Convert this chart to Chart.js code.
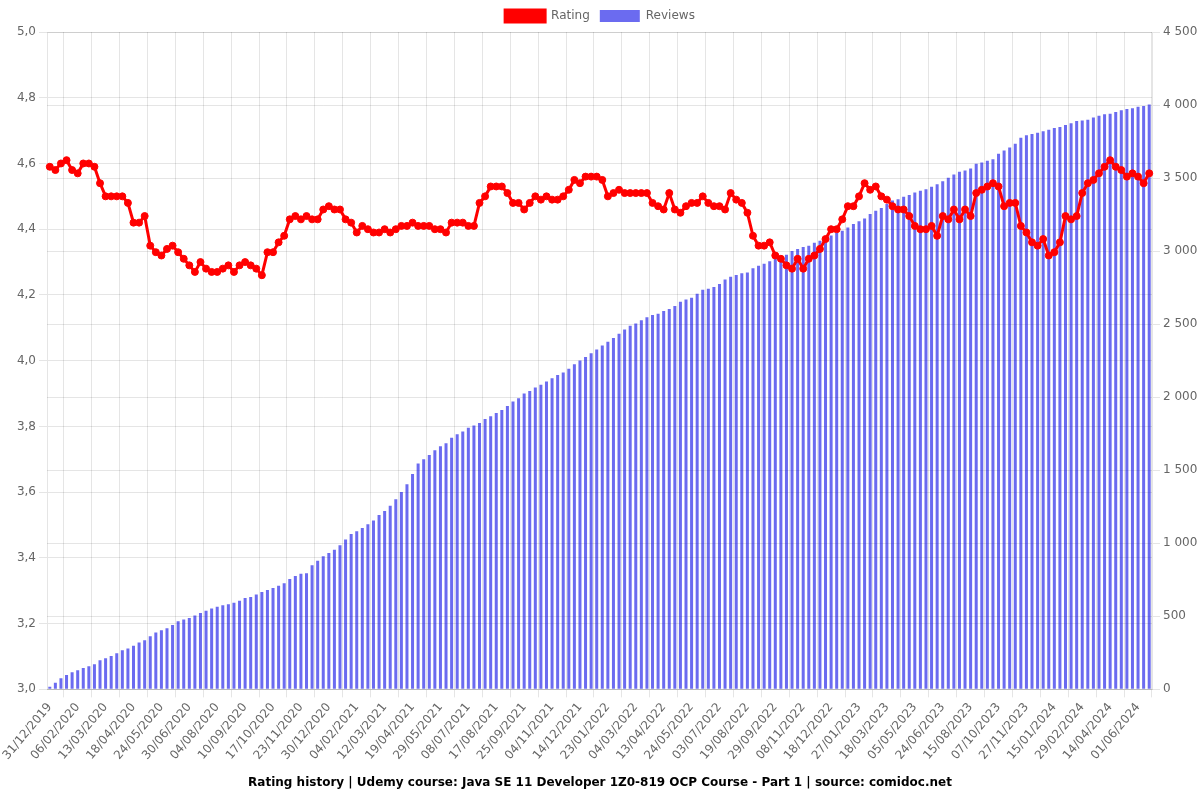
<!DOCTYPE html>
<html>
<head>
<meta charset="utf-8">
<script src="https://cdn.jsdelivr.net/npm/chart.js@4/dist/chart.umd.min.js"></script>
<style>
  html, body { margin: 0; padding: 0; background: #fff; }
  #wrap { width: 1200px; height: 800px; position: relative; }
</style>
</head>
<body>
<div id="wrap"><canvas id="chart"></canvas></div>
<script>
// dates of the snapshots (x categories)
const dates = [
'31/12/2019','07/01/2020','15/01/2020','22/01/2020','30/01/2020',
'06/02/2020','13/02/2020','20/02/2020','28/02/2020','06/03/2020',
'13/03/2020','20/03/2020','27/03/2020','04/04/2020','11/04/2020',
'18/04/2020','25/04/2020','02/05/2020','10/05/2020','17/05/2020',
'24/05/2020','31/05/2020','08/06/2020','15/06/2020','23/06/2020',
'30/06/2020','07/07/2020','14/07/2020','21/07/2020','28/07/2020',
'04/08/2020','11/08/2020','19/08/2020','26/08/2020','03/09/2020',
'10/09/2020','17/09/2020','25/09/2020','02/10/2020','10/10/2020',
'17/10/2020','24/10/2020','01/11/2020','08/11/2020','16/11/2020',
'23/11/2020','30/11/2020','08/12/2020','15/12/2020','23/12/2020',
'30/12/2020','06/01/2021','13/01/2021','21/01/2021','28/01/2021',
'04/02/2021','11/02/2021','18/02/2021','26/02/2021','05/03/2021',
'12/03/2021','19/03/2021','27/03/2021','04/04/2021','12/04/2021',
'19/04/2021','27/04/2021','05/05/2021','13/05/2021','21/05/2021',
'29/05/2021','06/06/2021','14/06/2021','22/06/2021','30/06/2021',
'08/07/2021','16/07/2021','24/07/2021','01/08/2021','09/08/2021',
'17/08/2021','25/08/2021','02/09/2021','10/09/2021','17/09/2021',
'25/09/2021','03/10/2021','11/10/2021','19/10/2021','27/10/2021',
'04/11/2021','12/11/2021','20/11/2021','28/11/2021','06/12/2021',
'14/12/2021','22/12/2021','30/12/2021','07/01/2022','15/01/2022',
'23/01/2022','31/01/2022','08/02/2022','16/02/2022','24/02/2022',
'04/03/2022','12/03/2022','20/03/2022','28/03/2022','05/04/2022',
'13/04/2022','21/04/2022','29/04/2022','07/05/2022','15/05/2022',
'24/05/2022','01/06/2022','09/06/2022','17/06/2022','25/06/2022',
'03/07/2022','12/07/2022','22/07/2022','31/07/2022','09/08/2022',
'19/08/2022','27/08/2022','04/09/2022','12/09/2022','21/09/2022',
'29/09/2022','07/10/2022','15/10/2022','23/10/2022','31/10/2022',
'08/11/2022','16/11/2022','24/11/2022','02/12/2022','10/12/2022',
'18/12/2022','26/12/2022','03/01/2023','11/01/2023','19/01/2023',
'27/01/2023','06/02/2023','16/02/2023','26/02/2023','08/03/2023',
'18/03/2023','28/03/2023','07/04/2023','17/04/2023','26/04/2023',
'05/05/2023','15/05/2023','25/05/2023','04/06/2023','14/06/2023',
'24/06/2023','04/07/2023','15/07/2023','25/07/2023','04/08/2023',
'15/08/2023','25/08/2023','04/09/2023','15/09/2023','26/09/2023',
'07/10/2023','17/10/2023','27/10/2023','06/11/2023','17/11/2023',
'27/11/2023','07/12/2023','17/12/2023','27/12/2023','05/01/2024',
'15/01/2024','24/01/2024','02/02/2024','11/02/2024','20/02/2024',
'29/02/2024','09/03/2024','18/03/2024','27/03/2024','05/04/2024',
'14/04/2024','23/04/2024','03/05/2024','13/05/2024','23/05/2024',
'01/06/2024','11/06/2024','20/06/2024'
];

// average rating
const rating = [
4.59,4.58,4.60,4.61,4.58,4.57,4.60,4.60,4.59,4.54,
4.50,4.50,4.50,4.50,4.48,4.42,4.42,4.44,4.35,4.33,
4.32,4.34,4.35,4.33,4.31,4.29,4.27,4.30,4.28,4.27,
4.27,4.28,4.29,4.27,4.29,4.30,4.29,4.28,4.26,4.33,
4.33,4.36,4.38,4.43,4.44,4.43,4.44,4.43,4.43,4.46,
4.47,4.46,4.46,4.43,4.42,4.39,4.41,4.40,4.39,4.39,
4.40,4.39,4.40,4.41,4.41,4.42,4.41,4.41,4.41,4.40,
4.40,4.39,4.42,4.42,4.42,4.41,4.41,4.48,4.50,4.53,
4.53,4.53,4.51,4.48,4.48,4.46,4.48,4.50,4.49,4.50,
4.49,4.49,4.50,4.52,4.55,4.54,4.56,4.56,4.56,4.55,
4.50,4.51,4.52,4.51,4.51,4.51,4.51,4.51,4.48,4.47,
4.46,4.51,4.46,4.45,4.47,4.48,4.48,4.50,4.48,4.47,
4.47,4.46,4.51,4.49,4.48,4.45,4.38,4.35,4.35,4.36,
4.32,4.31,4.29,4.28,4.31,4.28,4.31,4.32,4.34,4.37,
4.40,4.40,4.43,4.47,4.47,4.50,4.54,4.52,4.53,4.50,
4.49,4.47,4.46,4.46,4.44,4.41,4.40,4.40,4.41,4.38,
4.44,4.43,4.46,4.43,4.46,4.44,4.51,4.52,4.53,4.54,
4.53,4.47,4.48,4.48,4.41,4.39,4.36,4.35,4.37,4.32,
4.33,4.36,4.44,4.43,4.44,4.51,4.54,4.55,4.57,4.59,
4.61,4.59,4.58,4.56,4.57,4.56,4.54,4.57
];

// number of reviews
const reviews = [
18,46,76,98,117,130,147,158,172,199,
213,229,247,268,279,298,321,337,364,389,
405,419,440,467,479,488,506,522,538,554,
566,575,582,593,607,625,632,650,666,680,
694,710,726,756,776,792,795,850,880,912,
934,955,987,1026,1063,1083,1104,1131,1156,1193,
1221,1257,1301,1351,1404,1475,1546,1575,1605,1637,
1665,1685,1722,1747,1766,1791,1807,1823,1850,1869,
1891,1912,1939,1970,1992,2025,2042,2066,2086,2107,
2130,2152,2169,2194,2226,2251,2276,2301,2327,2354,
2379,2405,2435,2464,2489,2505,2526,2547,2563,2572,
2590,2604,2624,2654,2668,2681,2709,2736,2743,2755,
2775,2805,2824,2837,2849,2853,2883,2899,2913,2931,
2952,2961,2975,3000,3014,3028,3037,3057,3071,3089,
3107,3124,3140,3162,3186,3204,3224,3254,3277,3296,
3323,3346,3355,3373,3385,3401,3414,3423,3440,3458,
3478,3502,3524,3543,3552,3566,3598,3607,3618,3629,
3667,3689,3710,3735,3776,3794,3801,3811,3820,3831,
3842,3849,3863,3875,3890,3895,3900,3914,3927,3937,
3941,3952,3964,3973,3978,3989,3994,4003
];

const titleText = 'Rating history | Udemy course: Java SE 11 Developer 1Z0-819 OCP Course - Part 1 | source: comidoc.net';

Chart.defaults.font.family = "'DejaVu Sans', sans-serif";
Chart.defaults.font.size = 12;
Chart.defaults.color = '#666';

const ctx = document.getElementById('chart').getContext('2d');
const chart = new Chart(ctx, {
    type: 'bar',
    data: {
        labels: dates,
        datasets: [
            {
                type: 'line',
                label: 'Rating',
                data: rating,
                yAxisID: 'y',
                borderColor: 'rgb(255, 0, 0)',
                backgroundColor: 'rgb(255, 0, 0)',
                borderWidth: 3,
                pointRadius: 3.5,
                pointBorderWidth: 1,
                pointBackgroundColor: 'rgb(255, 0, 0)',
                tension: 0
            },
            {
                label: 'Reviews',
                data: reviews,
                yAxisID: 'y1',
                backgroundColor: 'rgba(0, 0, 230, 0.58)',
                borderWidth: 0,
                barPercentage: 0.6,
                categoryPercentage: 0.9
            }
        ]
    },
    options: {
        responsive: true,
        maintainAspectRatio: false,
        animation: false,
        locale: 'fr-FR',
        plugins: {
            legend: {
                position: 'top',
                labels: { boxWidth: 40, color: '#666' }
            },
            title: {
                display: true,
                position: 'bottom',
                text: titleText,
                color: '#000',
                font: { size: 12, weight: 'bold' }
            }
        },
        scales: {
            x: {
                ticks: { maxRotation: 50 }
            },
            y: {
                position: 'left',
                min: 3,
                max: 5,
                ticks: { stepSize: 0.2 },
                afterFit: function(scale) { scale.width = 47; }
            },
            y1: {
                position: 'right',
                min: 0,
                max: 4500,
                ticks: {
                    stepSize: 500,
                    callback: function(value) {
                        return value.toLocaleString('fr-FR').replace('\u202f', '\u00a0');
                    }
                },
                afterFit: function(scale) { scale.width = 48; }
            }
        }
    }
});
</script>
</body>
</html>
